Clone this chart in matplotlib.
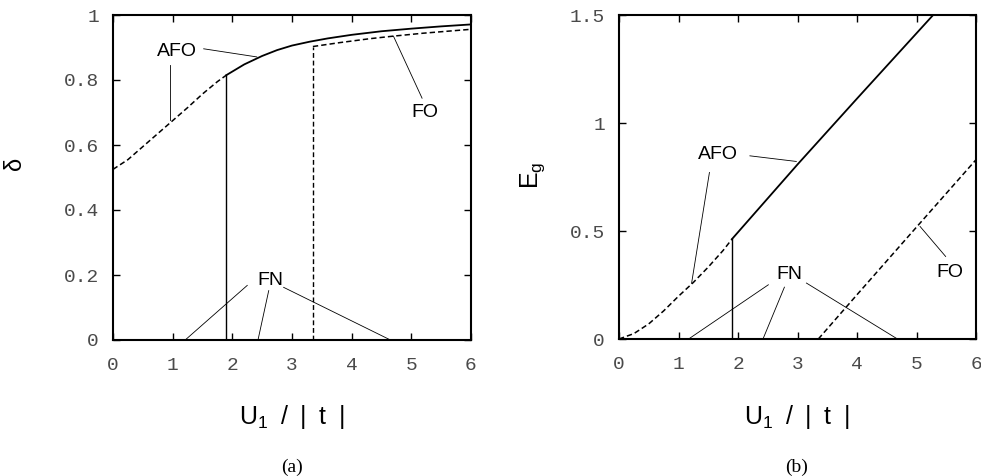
import matplotlib
matplotlib.use('Agg')
import matplotlib.pyplot as plt

# panel (a): delta vs U1/|t|
u_afo_dash = [0.0, 0.25, 0.5, 0.75, 1.0, 1.25, 1.5, 1.75, 1.9]
d_afo_dash = [0.525, 0.555, 0.595, 0.635, 0.675, 0.715, 0.757, 0.795, 0.815]
u_afo_solid = [1.9, 2.2, 2.5, 2.75, 3.0, 3.3, 3.6, 4.0, 4.5, 5.0, 5.5, 6.0]
d_afo_solid = [0.815, 0.848, 0.874, 0.892, 0.906, 0.918, 0.928, 0.939, 0.950, 0.958, 0.965, 0.971]
u_fo_a = [3.35, 3.8, 4.3, 4.7, 5.2, 5.6, 6.0]
d_fo_a = [0.903, 0.915, 0.927, 0.935, 0.944, 0.950, 0.956]
u_c1 = 1.9
u_c2 = 3.35

# panel (b): gap vs U1/|t|
u_eg_dash = [0.0, 0.25, 0.5, 0.75, 1.0, 1.25, 1.5, 1.75, 1.9]
eg_dash = [0.0, 0.025, 0.07, 0.13, 0.198, 0.262, 0.333, 0.41, 0.463]
u_eg_solid = [1.9, 3.0, 4.0, 5.28]
eg_solid = [0.463, 0.808, 1.113, 1.5]
u_fo_b = [3.35, 4.0, 5.0, 6.0]
eg_fo = [0.0, 0.205, 0.518, 0.83]

mono = 'Liberation Mono'
sans = 'Liberation Sans'
serif = 'Liberation Serif'
tickgray = '#4a4a4a'
dash = (0, (3.5, 2.0))

fig = plt.figure(figsize=(9.81, 4.76), dpi=100)
axa = fig.add_axes([113/981, 1-340/476, 358/981, 325/476])
axb = fig.add_axes([619/981, 1-339/476, 357/981, 324/476])

for ax in (axa, axb):
    ax.tick_params(direction='in', length=5, width=1.0, top=True, right=True,
                   labelsize=14, labelcolor=tickgray)
    ax.tick_params(axis='x', pad=12)
    ax.tick_params(axis='y', pad=10)
    for s in ax.spines.values():
        s.set_linewidth(1.5)
    ax.set_xlim(0, 6)
    ax.set_xticks(range(7))
    ax.set_xticklabels([str(i) for i in range(7)], fontfamily=mono)

# (a)
axa.set_ylim(0, 1)
axa.set_yticks([0, 0.2, 0.4, 0.6, 0.8, 1])
axa.set_yticklabels(['0', '0.2', '0.4', '0.6', '0.8', '1'], fontfamily=mono)
axa.plot(u_afo_dash, d_afo_dash, 'k', lw=1.1, linestyle=dash)
axa.plot(u_afo_solid, d_afo_solid, 'k', lw=1.3)
axa.plot(u_fo_a, d_fo_a, 'k', lw=1.1, linestyle=dash)
axa.plot([u_c1, u_c1], [0, d_afo_dash[-1]], 'k', lw=1.0)
axa.plot([u_c2, u_c2], [0, d_fo_a[0]], 'k', lw=1.0, linestyle=dash)

lk = dict(color='k', lw=0.6)
lab = dict(fontfamily=sans, fontsize=14, ha='center', va='center')
axa.text(1.07, 0.887, 'AFO', **lab)
axa.plot([1.52, 2.41], [0.896, 0.871], **lk)
axa.plot([0.96, 0.96], [0.846, 0.677], **lk)
axa.text(5.23, 0.70, 'FO', **lab)
axa.plot([5.18, 4.70], [0.744, 0.935], **lk)
axa.text(2.63, 0.183, 'FN', **lab)
axa.plot([2.25, 1.21], [0.168, 0.0], **lk)
axa.plot([2.61, 2.43], [0.152, 0.0], **lk)
axa.plot([2.86, 4.65], [0.162, 0.0], **lk)

# (b)
axb.set_ylim(0, 1.5)
axb.set_yticks([0, 0.5, 1, 1.5])
axb.set_yticklabels(['0', '0.5', '1', '1.5'], fontfamily=mono)
axb.plot(u_eg_dash, eg_dash, 'k', lw=1.1, linestyle=dash)
axb.plot(u_eg_solid, eg_solid, 'k', lw=1.3)
axb.plot(u_fo_b, eg_fo, 'k', lw=1.1, linestyle=dash)
axb.plot([u_c1, u_c1], [0, eg_dash[-1]], 'k', lw=1.0)

axb.text(1.66, 0.852, 'AFO', **lab)
axb.plot([2.20, 2.98], [0.848, 0.822], **lk)
axb.plot([1.52, 1.22], [0.771, 0.258], **lk)
axb.text(5.56, 0.308, 'FO', **lab)
axb.plot([5.49, 5.06], [0.382, 0.521], **lk)
axb.text(2.86, 0.298, 'FN', **lab)
axb.plot([2.51, 1.17], [0.251, 0.0], **lk)
axb.plot([2.78, 2.42], [0.240, 0.0], **lk)
axb.plot([3.15, 4.68], [0.259, 0.0], **lk)

# axis labels and captions
fig.text(15/981, 1-163/476, 'δ', fontfamily=sans, fontsize=17, rotation=90,
         ha='center', va='center')
fig.text(533/981, 1-175/476, 'E$_{\\mathregular{g}}$', fontfamily=sans, fontsize=18,
         rotation=90, ha='center', va='center')
for xc, cap in [(292/981, '(a)'), (797/981, '(b)')]:
    fig.text(xc, 1-417/476, 'U$_{\\mathregular{1}}$\u2002/\u2002|\u2002t\u2002|', fontfamily=sans,
             fontsize=18, ha='center', va='center')
    fig.text(xc, 1-467/476, cap, fontfamily=serif, fontsize=14,
             ha='center', va='center')

fig.savefig('out.png', dpi=100)
